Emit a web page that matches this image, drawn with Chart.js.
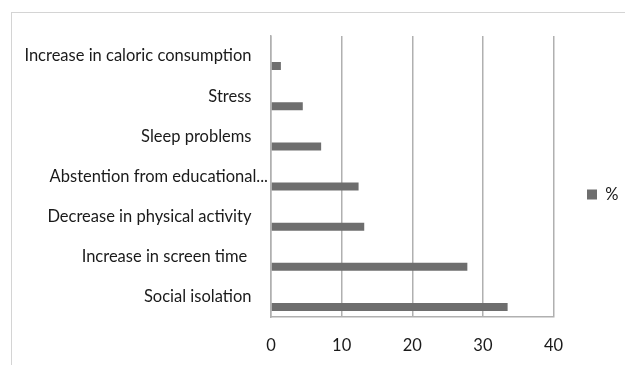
<!DOCTYPE html>
<html lang="en">
<head>
    <meta charset="UTF-8">
    <title>Reported effects</title>
    <script src="https://cdn.jsdelivr.net/npm/chart.js"></script>
    <style>
        html, body {
            margin: 0;
            overflow: hidden;
            background: #ffffff;
        }

        .frame {
            position: absolute;
            left: 11px;
            top: 12px;
            width: 640px;
            height: 380px;
            border: 1.5px solid #d4d4d4;
        }

        #barChart {
            position: absolute;
            left: 0;
            top: 0;
        }
    </style>
</head>
<body>
    <div class="frame"></div>
    <canvas id="barChart" width="625" height="365"></canvas>

    <script>
        // categories, top to bottom
        const categories = [
            'Increase in caloric consumption',
            'Stress',
            'Sleep problems',
            'Abstention from educational...',
            'Decrease in physical activity',
            'Increase in screen time ',
            'Social isolation'
        ];
        const percentValues = [1.4, 4.5, 7.1, 12.4, 13.2, 27.8, 33.5];
        const emptySeries = [null, null, null, null, null, null, null];
        const xTicks = [0, 10, 20, 30, 40];

        const textColor = '#1a1a1a';
        const gridColor = '#b0b0b0';
        const font = { family: 'Lato, "Open Sans", sans-serif', size: 16.5 };

        // move the legend box to its spot right of the plot
        const legendNudge = {
            id: 'legendNudge',
            afterLayout(chart) {
                const lg = chart.legend;
                const dx = 587 - (lg.left + lg.options.labels.padding);
                const dy = -6;
                lg.left += dx;
                lg.right += dx;
                lg.top += dy;
                lg.bottom += dy;
            }
        };

        const ctx = document.getElementById('barChart').getContext('2d');

        window.barChart = new Chart(ctx, {
            type: 'bar',
            data: {
                labels: categories,
                datasets: [
                    {
                        // blank series keeps each bar in the lower half of its row
                        label: '',
                        data: emptySeries,
                        backgroundColor: 'rgba(0,0,0,0)'
                    },
                    {
                        label: '%',
                        data: percentValues,
                        backgroundColor: '#6e6e6e',
                        borderWidth: 0
                    }
                ]
            },
            plugins: [legendNudge],
            options: {
                indexAxis: 'y',
                responsive: false,
                animation: false,
                categoryPercentage: 1.0,
                barPercentage: 0.4,
                layout: {
                    padding: { top: 36, left: 0, right: 24, bottom: 0 }
                },
                plugins: {
                    tooltip: { enabled: false },
                    legend: {
                        position: 'right',
                        labels: {
                            color: textColor,
                            font: font,
                            boxWidth: 10,
                            boxHeight: 10,
                            padding: 6,
                            filter: item => item.datasetIndex === 1
                        }
                    }
                },
                scales: {
                    x: {
                        min: 0,
                        max: 40,
                        afterBuildTicks: scale => {
                            scale.ticks = xTicks.map(v => ({ value: v }));
                        },
                        afterFit: scale => {
                            scale.height = 48;
                        },
                        grid: {
                            color: gridColor,
                            lineWidth: 1.5,
                            drawTicks: false
                        },
                        border: { color: gridColor, width: 1.5 },
                        ticks: {
                            color: textColor,
                            font: font,
                            padding: 19,
                            maxRotation: 0
                        }
                    },
                    y: {
                        afterFit: scale => {
                            scale.width = 271;
                        },
                        grid: { display: false, drawTicks: false },
                        border: { color: gridColor, width: 1.5 },
                        ticks: {
                            color: textColor,
                            font: font,
                            padding: 3,
                            autoSkip: false,
                            // the shortened label runs a little past the others
                            callback: function (value) {
                                const label = this.getLabelForValue(value);
                                return label.endsWith('...') ? label : label + '\u2002\u2002';
                            }
                        }
                    }
                }
            }
        });
    </script>
</body>
</html>
